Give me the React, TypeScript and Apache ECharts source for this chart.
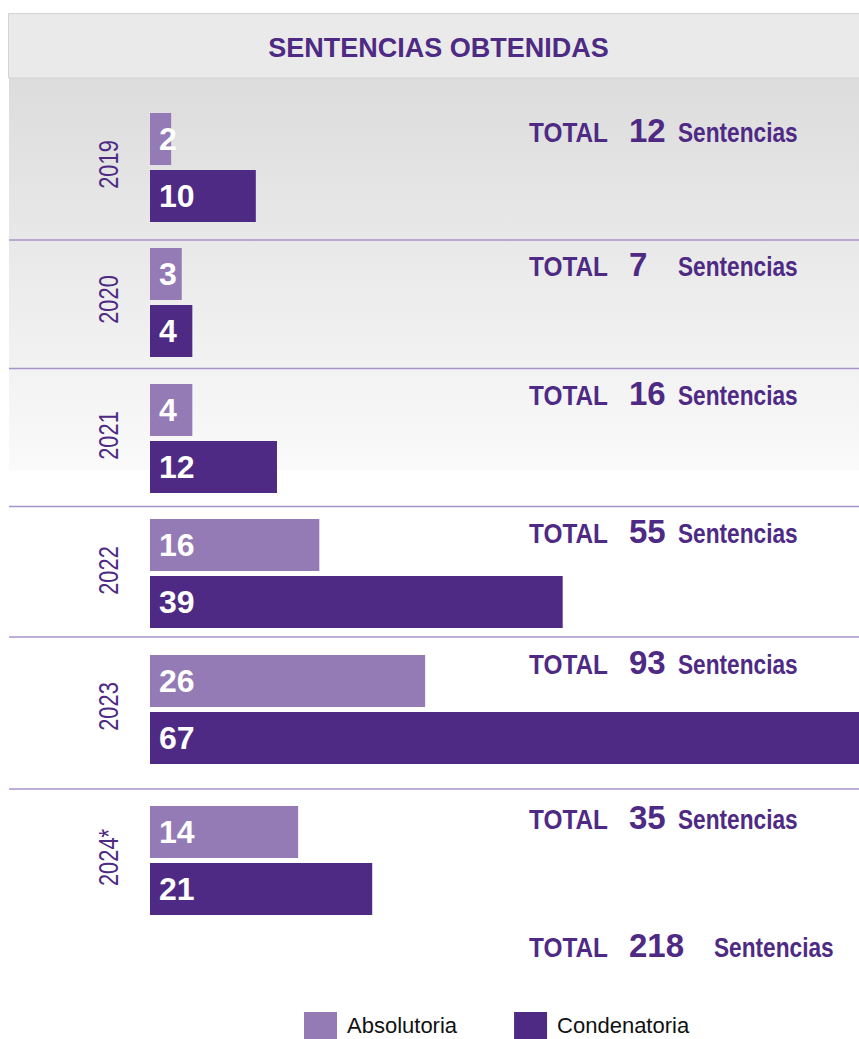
import React, { useEffect, useRef } from "react";
import * as echarts from "echarts";

// ---------- data ----------
const years = ["2019", "2020", "2021", "2022", "2023", "2024*"];
const absolutoria = [2, 3, 4, 16, 26, 14];
const condenatoria = [10, 4, 12, 39, 67, 21];
const seriesNames = ["Absolutoria", "Condenatoria"];
const titleText = "SENTENCIAS OBTENIDAS";
const totalWord = "TOTAL";
const unitWord = "Sentencias";

// ---------- layout / style ----------
const W = 859;
const H = 1039;
const rowTops = [113, 248, 384, 519, 655, 806];
const rowBaselines = [142, 276, 405, 543, 674, 829];
const separators = [240, 368.5, 506.5, 637, 789];
const grandBaseline = 957;
const BAR = 52;
const GAP = 5;
const PX_PER_UNIT = 14;
const LIGHT = "#957bb6";
const DARK = "#4e2a84";
const TEXT = "#4e2a84";
const SANS = '"Liberation Sans", Arial, sans-serif';

function txt(text: string, x: number, baseline: number, size: number, scaleX: number) {
  return {
    type: "text",
    x,
    y: baseline - 0.3465 * size,
    scaleX,
    z: 10,
    style: {
      text,
      font: `bold ${size}px ${SANS}`,
      fill: TEXT,
      align: "left",
      verticalAlign: "middle",
      textAlign: "left",
      textVerticalAlign: "middle",
    },
  };
}

export default function App() {
  const ref = useRef<HTMLDivElement>(null);

  useEffect(() => {
    if (!ref.current) return;
    const chart = echarts.init(ref.current, undefined, { renderer: "svg" });

    const maxVal = Math.max(...absolutoria, ...condenatoria);
    const totals = years.map((_, i) => absolutoria[i] + condenatoria[i]);
    const grandTotal = totals.reduce((a, b) => a + b, 0);

    const label = {
      show: true,
      position: "insideLeft",
      distance: 9,
      color: "#ffffff",
      fontSize: 32,
      fontWeight: "bold",
      fontFamily: SANS,
    };

    const grid = years.map((_, i) => ({
      left: 150,
      top: rowTops[i],
      width: maxVal * PX_PER_UNIT,
      height: 2 * BAR + GAP,
    }));
    const xAxis = years.map((_, i) => ({
      type: "value",
      gridIndex: i,
      min: 0,
      max: maxVal,
      show: false,
    }));
    const yAxis = years.map((y, i) => ({
      type: "category",
      gridIndex: i,
      data: [y],
      inverse: true,
      axisLine: { show: false },
      axisTick: { show: false },
      splitLine: { show: false },
      axisLabel: { show: false },
    }));
    const series: any[] = [];
    years.forEach((_, i) => {
      series.push({
        name: seriesNames[0],
        type: "bar",
        xAxisIndex: i,
        yAxisIndex: i,
        data: [absolutoria[i]],
        barWidth: BAR,
        barGap: `${(GAP / BAR) * 100}%`,
        itemStyle: { color: LIGHT },
        label,
      });
      series.push({
        name: seriesNames[1],
        type: "bar",
        xAxisIndex: i,
        yAxisIndex: i,
        data: [condenatoria[i]],
        barWidth: BAR,
        barGap: `${(GAP / BAR) * 100}%`,
        itemStyle: { color: DARK },
        label,
      });
    });

    const graphic: any[] = [
      {
        type: "rect",
        z: -10,
        shape: { x: 9, y: 78, width: W - 9, height: 392 },
        style: {
          fill: new echarts.graphic.LinearGradient(0, 0, 0, 1, [
            { offset: 0, color: "#dcdcdc" },
            { offset: 1, color: "#fafafa" },
          ]),
        },
      },
      {
        type: "rect",
        z: -9,
        shape: { x: 8.5, y: 13.5, width: W, height: 64.5 },
        style: { fill: "#eaeaea", stroke: "#d4d4d4", lineWidth: 1 },
      },
      {
        type: "text",
        x: 438.5,
        y: 48,
        z: 10,
        style: {
          text: titleText,
          font: `bold 27px ${SANS}`,
          fill: TEXT,
          align: "center",
          verticalAlign: "middle",
          textAlign: "center",
          textVerticalAlign: "middle",
        },
      },
    ];
    separators.forEach((y) => {
      graphic.push({
        type: "line",
        z: -5,
        shape: { x1: 9, y1: y, x2: W, y2: y },
        style: { stroke: "#a693c9", lineWidth: 1.6 },
      });
    });
    // year labels (rotated, condensed)
    years.forEach((y, i) => {
      graphic.push({
        type: "text",
        x: 108,
        y: rowTops[i] + (2 * BAR + GAP) / 2 - 3,
        rotation: Math.PI / 2,
        scaleX: 0.78,
        z: 10,
        style: {
          text: y,
          font: `28px ${SANS}`,
          fill: TEXT,
          align: "center",
          verticalAlign: "middle",
          textAlign: "center",
          textVerticalAlign: "middle",
        },
      });
    });
    totals.forEach((t, i) => {
      const b = rowBaselines[i];
      graphic.push(txt(totalWord, 529, b, 28, 0.87));
      graphic.push(txt(String(t), 629, b, 33, 1));
      graphic.push(txt(unitWord, 678, b, 27, 0.84));
    });
    graphic.push(txt(totalWord, 529, grandBaseline, 28, 0.87));
    graphic.push(txt(String(grandTotal), 629, grandBaseline, 33, 1));
    graphic.push(txt(unitWord, 714, grandBaseline, 27, 0.84));

    chart.setOption({
      animation: false,
      backgroundColor: "#ffffff",
      grid,
      xAxis,
      yAxis,
      series,
      graphic,
      legend: {
        data: seriesNames,
        left: 304,
        top: 1012,
        padding: 0,
        icon: "rect",
        itemWidth: 33,
        itemHeight: 27,
        itemGap: 57,
        selectedMode: false,
        textStyle: {
          color: "#111111",
          fontSize: 22,
          fontFamily: SANS,
          padding: [0, 0, 0, 5],
        },
      },
    });

    return () => chart.dispose();
  }, []);

  return (
    <div
      ref={ref}
      style={{ position: "absolute", left: 0, top: 0, width: W, height: H }}
    />
  );
}
